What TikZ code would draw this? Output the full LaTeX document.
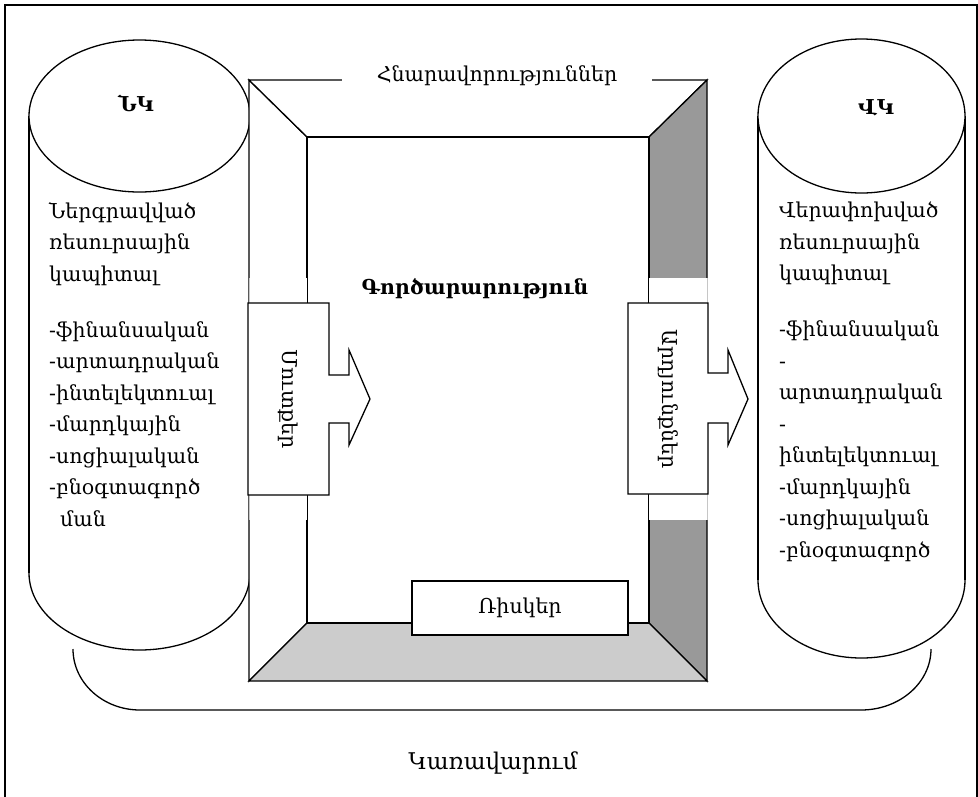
\documentclass[tikz,border=0pt]{standalone}
\usepackage{fontspec}
\setmainfont{DejaVu Serif}
\begin{document}
\begin{tikzpicture}[x=1pt,y=-1pt,line join=miter,
  edge/.style={draw=black,line width=1.3pt},
  txt/.style={font=\fontsize{20.5}{31.5}\selectfont,inner sep=0pt},
  boldtxt/.style={font=\fontsize{20.5}{31.5}\selectfont\bfseries,inner sep=0pt},
  faint/.style={draw=gray!45,line width=0.5pt}]
\definecolor{walldark}{HTML}{999999}
\definecolor{walllight}{HTML}{CCCCCC}
\useasboundingbox (0,0) rectangle (978,796);
% page frame
\draw[edge] (5,5) rectangle (977,820);
% bracket under the two cylinders
\draw[edge] (73,649) arc (180:90:67 and 61) -- (861,710) arc (90:0:70 and 61);
% left cylinder
\filldraw[edge,fill=white] (139.5,573) ellipse [x radius=110.5,y radius=77];
\fill[white] (29,116) rectangle (250,573);
\draw[edge] (29,116) -- (29,573) (250,116) -- (250,573);
\filldraw[edge,fill=white] (139.5,116) ellipse [x radius=110.5,y radius=76];
% right cylinder
\filldraw[edge,fill=white] (861.5,580) ellipse [x radius=103.5,y radius=78];
\fill[white] (758,116) rectangle (965,580);
\draw[edge] (758,116) -- (758,580) (965,116) -- (965,580);
\filldraw[edge,fill=white] (861.5,116) ellipse [x radius=103.5,y radius=77];
% activity box in perspective
\coordinate (otl) at (249,80);  \coordinate (otr) at (707,80);
\coordinate (obl) at (249,681); \coordinate (obr) at (707,681);
\coordinate (itl) at (307,137); \coordinate (itr) at (649,137);
\coordinate (ibl) at (307,623); \coordinate (ibr) at (649,623);
\filldraw[edge,fill=white] (otl) -- (itl) -- (ibl) -- (obl) -- cycle;
\filldraw[edge,fill=white] (otl) -- (otr) -- (itr) -- (itl) -- cycle;
\filldraw[edge,fill=walldark] (otr) -- (obr) -- (ibr) -- (itr) -- cycle;
\filldraw[edge,fill=walllight] (obl) -- (obr) -- (ibr) -- (ibl) -- cycle;
\filldraw[edge,fill=white] (itl) rectangle (ibr);
% openings in the side walls
\fill[white] (249,278) rectangle (307,520);
\fill[white] (649,278) rectangle (707,520);
\draw[faint] (249,278) -- (249,520);
\draw[faint] (707,278) -- (707,520);
% input and output arrows
\filldraw[edge,fill=white] (248,303) -- (329,303) -- (329,375) -- (349,375) -- (349,350)
  -- (370,399) -- (349,445) -- (349,423) -- (329,423) -- (329,495) -- (248,495) -- cycle;
\filldraw[edge,fill=white] (628,303) -- (708,303) -- (708,373) -- (728,373) -- (728,350)
  -- (748,399) -- (728,445) -- (728,423) -- (708,423) -- (708,494) -- (628,494) -- cycle;
\node[txt,rotate=-90] (inputs) at (288,399) {Մուտքեր};
\node[txt,rotate=-90] (outputs) at (668,399) {Արդյունքներ};
% risks
\node[edge,fill=white,minimum width=216pt,minimum height=54pt,inner sep=0pt] (risks) at (520,608) {};
\node[txt] (riskslabel) at (risks) {Ռիսկեր};
% labels
\node[txt,fill=white,minimum width=310pt,minimum height=26pt] (opps) at (497,76) {Հնարավորություններ};
\node[boldtxt] (activity) at (475,289) {Գործարարություն};
\node[boldtxt] (nk) at (136,103) {ՆԿ};
\node[boldtxt] (vk) at (876,108) {ՎԿ};
\node[txt,font=\fontsize{23}{31.5}\selectfont] (mgmt) at (493,763) {Կառավարում};
\node[txt,align=left,anchor=north west] (lefttext) at (49,202)
  {Ներգրավված\\ռեսուրսային\\կապիտալ\\[24.5pt]-ֆինանսական\\-արտադրական\\-ինտելեկտուալ\\-մարդկային\\-սոցիալական\\-բնօգտագործ\\\hspace*{11pt}ման};
\node[txt,align=left,anchor=north west] (righttext) at (779,202)
  {Վերափոխված\\ռեսուրսային\\կապիտալ\\[24.5pt]-ֆինանսական\\-\\արտադրական\\-\\ինտելեկտուալ\\-մարդկային\\-սոցիալական\\-բնօգտագործ};
\end{tikzpicture}
\end{document}
